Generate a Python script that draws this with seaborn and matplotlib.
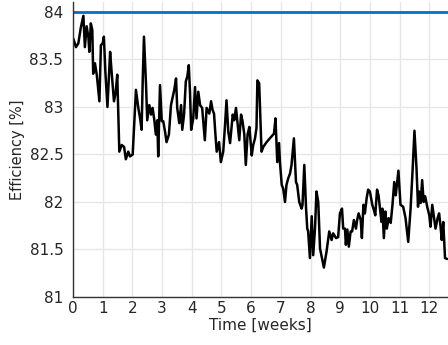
import matplotlib
matplotlib.use("Agg")
import matplotlib.pyplot as plt
import seaborn as sns
import pandas as pd

# Zeit [Wochen] und Wirkungsgrad [%]
time_weeks = [
    0.01, 0.10, 0.18, 0.26, 0.35, 0.40, 0.46, 0.52, 0.55, 0.60, 0.65, 0.68, 0.74, 0.80, 0.89,
    0.94, 1.00, 1.04, 1.09, 1.16, 1.25, 1.30, 1.38, 1.44, 1.49, 1.56, 1.64, 1.72, 1.78, 1.86,
    1.92, 2.01, 2.06, 2.12, 2.20, 2.26, 2.31, 2.35, 2.39, 2.46, 2.50, 2.57, 2.63, 2.68, 2.74,
    2.79, 2.84, 2.87, 2.93, 2.99, 3.04, 3.10, 3.15, 3.23, 3.30, 3.36, 3.41, 3.47, 3.51, 3.58,
    3.64, 3.68, 3.74, 3.80, 3.85, 3.90, 3.94, 3.98, 4.05, 4.11, 4.16, 4.22, 4.28, 4.35, 4.44,
    4.50, 4.59, 4.65, 4.70, 4.75, 4.79, 4.84, 4.92, 4.98, 5.06, 5.12, 5.17, 5.23, 5.29, 5.38,
    5.43, 5.49, 5.55, 5.60, 5.66, 5.71, 5.77, 5.82, 5.88, 5.94, 6.02, 6.07, 6.13, 6.18, 6.21,
    6.27, 6.35, 6.41, 6.52, 6.63, 6.77, 6.82, 6.88, 6.94, 6.97, 7.03, 7.08, 7.14, 7.19, 7.25,
    7.31, 7.36, 7.44, 7.51, 7.55, 7.62, 7.70, 7.73, 7.79, 7.85, 7.89, 7.92, 7.98, 8.04, 8.09,
    8.15, 8.20, 8.26, 8.32, 8.45, 8.54, 8.63, 8.71, 8.76, 8.86, 8.93, 8.99, 9.06, 9.10, 9.16,
    9.19, 9.24, 9.29, 9.35, 9.40, 9.46, 9.53, 9.57, 9.62, 9.69, 9.73, 9.78, 9.83, 9.89, 9.94,
    10.00, 10.08, 10.13, 10.18, 10.24, 10.29, 10.34, 10.39, 10.42, 10.47, 10.52, 10.57, 10.63,
    10.70, 10.76, 10.82, 10.87, 10.96, 11.03, 11.12, 11.20, 11.29, 11.37, 11.44, 11.50, 11.57,
    11.62, 11.66, 11.71, 11.76, 11.81, 11.86, 11.93, 12.00, 12.04, 12.10, 12.15, 12.21, 12.28,
    12.33, 12.38, 12.42, 12.47, 12.53, 12.60,
]
efficiency = [
    83.72, 83.63, 83.67, 83.83, 83.96, 83.63, 83.85, 83.73, 83.58, 83.88, 83.81, 83.35, 83.46, 83.34, 83.06,
    83.65, 83.67, 83.74, 83.37, 83.00, 83.58, 83.37, 83.06, 83.16, 83.34, 82.53, 82.60, 82.58, 82.45, 82.53,
    82.48, 82.50, 82.81, 83.18, 82.99, 82.88, 82.76, 83.30, 83.74, 83.23, 82.86, 83.02, 82.92, 82.99, 82.86,
    82.71, 82.86, 82.48, 83.23, 82.85, 82.85, 82.74, 82.63, 82.71, 83.02, 83.11, 83.18, 83.30, 82.99, 82.83,
    83.02, 82.76, 82.92, 83.27, 83.32, 83.44, 83.16, 82.76, 82.88, 83.21, 82.88, 83.16, 83.02, 82.99, 82.65,
    82.99, 82.93, 83.06, 82.97, 82.93, 82.74, 82.53, 82.63, 82.42, 82.53, 82.81, 83.07, 82.74, 82.62, 82.92,
    82.86, 82.99, 82.81, 82.65, 82.92, 82.85, 82.71, 82.39, 82.71, 82.79, 82.49, 82.60, 82.67, 82.78, 83.28,
    83.25, 82.53, 82.58, 82.63, 82.67, 82.72, 82.88, 82.42, 82.62, 82.42, 82.18, 82.14, 82.00, 82.18, 82.25,
    82.30, 82.39, 82.67, 82.21, 82.18, 82.00, 81.93, 81.97, 82.39, 81.93, 81.72, 81.69, 81.41, 81.85, 81.44,
    81.72, 82.11, 82.00, 81.51, 81.31, 81.48, 81.69, 81.60, 81.67, 81.62, 81.63, 81.88, 81.93, 81.72, 81.72,
    81.55, 81.71, 81.53, 81.69, 81.69, 81.81, 81.72, 81.81, 81.88, 81.81, 81.62, 81.97, 81.88, 82.04, 82.13,
    82.11, 81.97, 81.92, 81.86, 82.13, 82.07, 81.93, 81.79, 81.93, 81.62, 81.90, 81.72, 81.83,
    81.78, 81.97, 82.21, 82.07, 82.33, 81.97, 81.95, 81.83, 81.58, 81.93, 82.35, 82.75, 82.35,
    81.95, 82.11, 81.99, 82.23, 82.00, 82.06, 81.95, 81.86, 81.74, 81.97, 81.86, 81.72, 81.83,
    81.88, 81.74, 81.60, 81.79, 81.41, 81.40,
]
reference_level = 84.0

df = pd.DataFrame({"t": time_weeks, "eta": efficiency})

sns.set_style("whitegrid", {
    "grid.color": "#e6e6e6",
    "axes.edgecolor": "#333333",
})
plt.rcParams["font.family"] = ["DejaVu Sans"]

fig = plt.figure(figsize=(4.48, 3.45), dpi=100)
ax = fig.add_axes([73 / 448, 48 / 345, 1 - 73 / 448, 295 / 345])

ax.axhline(reference_level, color="#0072BD", lw=2)
sns.lineplot(data=df, x="t", y="eta", color="black", lw=1.8, ax=ax)

ax.set_xlim(0, 12.63)
ax.set_ylim(81, 84.105)
ax.set_xticks(range(0, 13))
ax.set_yticks([81, 81.5, 82, 82.5, 83, 83.5, 84])
ax.set_yticklabels(["81", "81.5", "82", "82.5", "83", "83.5", "84"])

ax.set_xlabel("Time [weeks]", fontsize=11, color="#262626", labelpad=1)
ax.set_ylabel("Efficiency [%]", fontsize=10.5, color="#262626", labelpad=3)
ax.tick_params(axis="both", direction="in", length=4, width=0.8, colors="#333333",
               labelsize=11, labelcolor="#262626")
ax.tick_params(axis="x", pad=3)
ax.tick_params(axis="y", pad=7)

for side in ["top", "right"]:
    ax.spines[side].set_visible(False)
for side in ["left", "bottom"]:
    ax.spines[side].set_linewidth(1.0)
ax.grid(True, lw=1.0)

fig.savefig("out.png", dpi=100, facecolor="white")
